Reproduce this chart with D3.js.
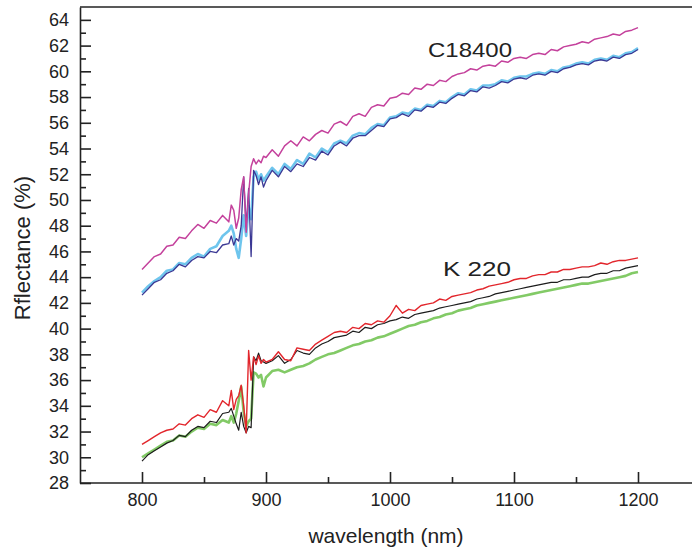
<!DOCTYPE html>
<html>
<head>
<meta charset="utf-8">
<script src="https://cdn.jsdelivr.net/npm/d3@7"></script>
<style>
  body { margin: 0; background: #fff; }
  text { font-family: "Liberation Sans", Arial, sans-serif; fill: #222; }
</style>
</head>
<body>
<svg id="chart" width="692" height="553"></svg>
<script>
// wavelength sampling (nm): 5 nm steps, 2 nm through the noisy 870-900 band
const wavelength = [
  800, 805, 810, 815, 820, 825, 830, 835, 840, 845, 850, 855, 860, 865, 870,
  872, 874, 876, 878, 880, 882, 884, 886, 888, 890, 892, 894, 896, 898, 900,
  905, 910, 915, 920, 925, 930, 935, 940, 945, 950, 955, 960, 965, 970, 975,
  980, 985, 990, 995, 1000, 1005, 1010, 1015, 1020, 1025, 1030, 1035, 1040, 1045, 1050,
  1055, 1060, 1065, 1070, 1075, 1080, 1085, 1090, 1095, 1100, 1105, 1110, 1115, 1120, 1125,
  1130, 1135, 1140, 1145, 1150, 1155, 1160, 1165, 1170, 1175, 1180, 1185, 1190, 1195, 1200];

// C18400 group
const c18400Magenta = [
  44.6, 45.1, 45.6, 45.8, 46.4, 46.5, 47.1, 47.0, 47.6, 48.1, 47.8, 48.4, 48.2, 48.8, 48.3,
  49.6, 49.2, 47.8, 48.6, 50.8, 51.8, 47.5, 50.5, 52.6, 53.2, 52.8, 53.1, 52.9, 53.4, 53.3,
  53.9, 53.4, 54.2, 54.6, 54.2, 54.9, 54.6, 55.1, 55.4, 55.2, 55.9, 56.1, 55.8, 56.5, 56.7,
  56.5, 57.2, 57.4, 57.3, 57.9, 58.0, 58.3, 58.2, 58.7, 58.6, 59.0, 58.9, 59.3, 59.2, 59.6,
  59.8, 59.9, 60.2, 60.1, 60.4, 60.5, 60.4, 60.8, 60.7, 61.0, 61.1, 61.0, 61.3, 61.4, 61.3,
  61.7, 61.6, 61.9, 62.0, 62.1, 62.3, 62.2, 62.5, 62.6, 62.7, 62.9, 62.8, 63.1, 63.2, 63.4];

const c18400LightBlue = [
  42.8, 43.3, 43.7, 44.0, 44.5, 44.6, 45.1, 45.0, 45.5, 45.8, 45.6, 46.2, 46.4, 47.2, 47.6,
  48.0, 47.4, 46.2, 45.5, 47.0, 48.8, 47.2, 49.5, 48.5, 51.8, 52.2, 51.6, 52.0, 51.5, 51.8,
  52.5, 52.0, 52.8, 52.4, 53.1, 52.8, 53.6, 53.3, 54.0, 53.7, 54.4, 54.6, 54.4, 55.0, 55.2,
  55.1, 55.6, 55.9, 55.8, 56.4, 56.5, 56.8, 56.7, 57.1, 57.0, 57.4, 57.3, 57.7, 57.6, 58.0,
  58.3, 58.2, 58.6, 58.5, 58.9, 58.9, 59.0, 59.3, 59.2, 59.5, 59.6, 59.6, 59.8, 59.9, 59.8,
  60.1, 60.0, 60.3, 60.4, 60.6, 60.7, 60.6, 60.9, 61.0, 60.9, 61.2, 61.1, 61.4, 61.5, 61.8];

const c18400DarkBlue = [
  42.6, 43.1, 43.6, 43.8, 44.3, 44.5, 45.0, 44.8, 45.3, 45.6, 45.5, 46.0, 45.9, 46.5, 46.6,
  47.2, 46.5, 47.0, 46.8, 48.0, 51.8, 47.9, 50.9, 45.6, 52.3, 51.9, 51.2, 51.8, 51.0, 51.5,
  52.3, 51.8, 52.6, 52.2, 52.8, 52.6, 53.3, 53.1, 53.8, 53.5, 54.2, 54.5, 54.2, 54.8, 55.0,
  55.0, 55.4, 55.8, 55.7, 56.3, 56.4, 56.7, 56.5, 57.0, 56.9, 57.3, 57.2, 57.6, 57.5, 57.9,
  58.2, 58.1, 58.5, 58.4, 58.8, 58.7, 58.9, 59.2, 59.1, 59.4, 59.5, 59.4, 59.7, 59.8, 59.7,
  60.0, 59.9, 60.2, 60.3, 60.5, 60.6, 60.5, 60.8, 60.9, 60.8, 61.1, 61.0, 61.3, 61.4, 61.7];

// K 220 group
const k220Red = [
  31.0, 31.3, 31.6, 31.9, 32.1, 32.2, 32.6, 32.5, 33.0, 33.3, 33.1, 33.7, 33.5, 34.4, 34.0,
  35.2, 33.7, 34.5, 34.8, 35.6, 34.0, 31.9, 38.3, 36.0, 37.8, 37.2, 37.9, 37.3, 37.6, 37.4,
  37.6, 38.2, 37.6, 37.5, 38.5, 38.4, 38.3, 38.8, 39.1, 39.4, 39.7, 39.8, 39.7, 40.1, 40.0,
  40.4, 40.3, 40.6, 40.5, 41.0, 41.8, 41.2, 41.5, 41.4, 41.8, 41.9, 42.0, 42.3, 42.2, 42.5,
  42.6, 42.7, 42.8, 43.0, 43.1, 43.3, 43.4, 43.5, 43.6, 43.8, 43.9, 43.9, 44.1, 44.2, 44.2,
  44.4, 44.4, 44.6, 44.6, 44.7, 44.8, 44.8, 44.9, 45.1, 45.0, 45.2, 45.3, 45.3, 45.4, 45.5];

const k220Black = [
  29.7, 30.2, 30.5, 30.8, 31.1, 31.3, 31.7, 31.6, 32.1, 32.4, 32.3, 32.8, 32.7, 33.4, 33.5,
  33.8, 33.2, 32.6, 32.1, 33.5, 32.4, 31.9, 32.4, 32.3, 37.8, 37.5, 38.1, 37.5, 37.4, 37.3,
  37.5, 37.9, 37.3, 37.6, 38.3, 38.1, 38.0, 38.5, 38.8, 39.0, 39.3, 39.4, 39.5, 39.8, 39.7,
  40.1, 40.0, 40.3, 40.4, 40.6, 40.7, 40.9, 40.8, 41.1, 41.2, 41.3, 41.4, 41.6, 41.7, 41.8,
  41.9, 42.0, 42.1, 42.3, 42.4, 42.5, 42.7, 42.8, 42.9, 43.0, 43.1, 43.2, 43.3, 43.4, 43.5,
  43.6, 43.6, 43.8, 43.8, 43.9, 44.0, 44.0, 44.2, 44.3, 44.3, 44.5, 44.5, 44.7, 44.8, 44.9];

const k220Green = [
  30.0, 30.3, 30.6, 30.9, 31.2, 31.3, 31.7, 31.6, 32.0, 32.3, 32.2, 32.6, 32.5, 32.9, 32.7,
  33.2, 32.7, 33.4, 34.4, 35.5, 33.5, 32.4, 32.8, 33.0, 36.6, 36.5, 36.2, 36.4, 35.5, 36.2,
  36.7, 36.8, 36.6, 36.8, 37.0, 37.1, 37.3, 37.6, 37.8, 38.0, 38.1, 38.3, 38.5, 38.7, 38.8,
  39.0, 39.1, 39.3, 39.4, 39.6, 39.8, 40.0, 40.2, 40.3, 40.5, 40.6, 40.8, 40.9, 41.1, 41.2,
  41.4, 41.5, 41.6, 41.8, 41.9, 42.0, 42.1, 42.2, 42.3, 42.4, 42.5, 42.6, 42.7, 42.8, 42.9,
  43.0, 43.1, 43.2, 43.3, 43.4, 43.5, 43.5, 43.6, 43.7, 43.8, 43.9, 44.0, 44.1, 44.3, 44.4];

const xTicks = [800, 900, 1000, 1100, 1200];
const xMinorTicks = [850, 950, 1050, 1150];
const yTicks = [28, 30, 32, 34, 36, 38, 40, 42, 44, 46, 48, 50, 52, 54, 56, 58, 60, 62, 64];
const yMinorTicks = [29, 31, 33, 35, 37, 39, 41, 43, 45, 47, 49, 51, 53, 55, 57, 59, 61, 63];

const series = [
  { values: c18400LightBlue, color: '#55bbea', width: 2.6, opacity: 0.85 },
  { values: c18400DarkBlue, color: '#3b3894', width: 1.3, opacity: 1 },
  { values: c18400Magenta, color: '#c4419c', width: 1.5, opacity: 1 },
  { values: k220Green, color: '#74c455', width: 2.6, opacity: 0.9 },
  { values: k220Black, color: '#1c1c1c', width: 1.2, opacity: 1 },
  { values: k220Red, color: '#e2262c', width: 1.4, opacity: 1 },
];

const svg = d3.select('#chart');

const m = { left: 80, right: 692, top: 7, bottom: 483 };

const x = d3.scaleLinear().domain([750, 1250]).range([80, 700]);
const y = d3.scaleLinear().domain([28, 65]).range([m.bottom, m.top]);

// frame: top line only, the right edge is cut off
svg.append('line')
  .attr('x1', m.left).attr('x2', m.right)
  .attr('y1', m.top).attr('y2', m.top)
  .attr('stroke', '#222')
  .attr('stroke-width', 1.6);

const line = d3.line()
  .x((d, i) => x(wavelength[i]))
  .y(d => y(d));

svg.selectAll('path.spectrum')
  .data(series)
  .enter()
  .append('path')
  .attr('class', 'spectrum')
  .attr('fill', 'none')
  .attr('stroke', s => s.color)
  .attr('stroke-width', s => s.width)
  .attr('stroke-opacity', s => s.opacity)
  .attr('stroke-linejoin', 'round')
  .attr('d', s => line(s.values));

// y axis, ticks pointing inward
const yAxis = svg.append('g')
  .attr('transform', `translate(${m.left},0)`)
  .call(d3.axisLeft(y).tickValues(yTicks).tickSizeInner(-11).tickSizeOuter(0).tickPadding(11));

svg.append('g')
  .attr('transform', `translate(${m.left},0)`)
  .call(d3.axisLeft(y).tickValues(yMinorTicks).tickSizeInner(-6).tickSizeOuter(0).tickFormat(''))
  .call(g => g.select('.domain').remove());

// x axis, ticks pointing upward
const xAxis = svg.append('g')
  .attr('transform', `translate(0,${m.bottom})`)
  .call(d3.axisBottom(x).tickValues(xTicks).tickFormat(d3.format('d'))
    .tickSizeInner(-11).tickSizeOuter(0).tickPadding(10));

xAxis.select('.domain').attr('d', `M${m.left},0H${m.right}`);

svg.append('g')
  .attr('transform', `translate(0,${m.bottom})`)
  .call(d3.axisBottom(x).tickValues(xMinorTicks).tickSizeInner(-6).tickSizeOuter(0).tickFormat(''))
  .call(g => g.select('.domain').remove());

[yAxis, xAxis].forEach((g) => {
  g.select('.domain').attr('stroke', '#222').attr('stroke-width', 1.6);
  g.selectAll('.tick text')
    .attr('fill', '#222')
    .style('font-size', '18px')
    .style('font-family', '"Liberation Sans", Arial, sans-serif');
});
svg.selectAll('.tick line').attr('stroke', '#222').attr('stroke-width', 1.6);

// titles
svg.append('text')
  .attr('x', (m.left + m.right) / 2)
  .attr('y', 543)
  .attr('text-anchor', 'middle')
  .style('font-size', '21px')
  .text('wavelength (nm)');

svg.append('text')
  .attr('transform', 'translate(30,248) rotate(-90)')
  .attr('text-anchor', 'middle')
  .style('font-size', '22px')
  .text('Rflectance (%)');

// group labels
svg.append('text')
  .attr('x', 428)
  .attr('y', 57)
  .style('font-size', '21px')
  .attr('textLength', 84)
  .attr('lengthAdjust', 'spacingAndGlyphs')
  .text('C18400');

svg.append('text')
  .attr('x', 443)
  .attr('y', 276)
  .style('font-size', '20px')
  .attr('textLength', 68)
  .attr('lengthAdjust', 'spacingAndGlyphs')
  .text('K 220');
</script>
</body>
</html>
